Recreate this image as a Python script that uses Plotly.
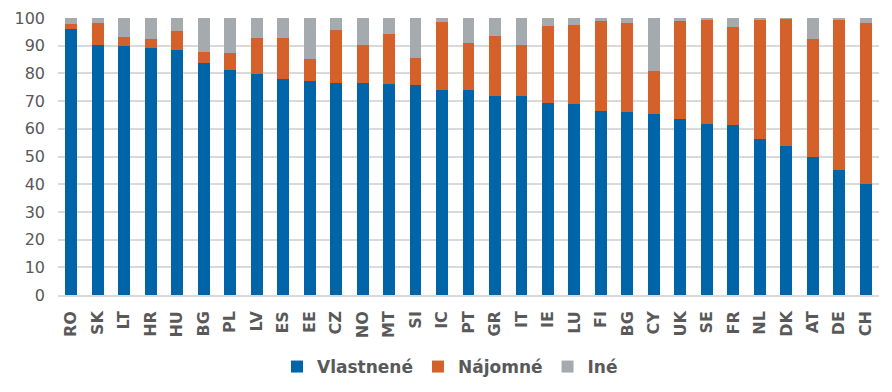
import plotly.graph_objects as go

countries = ["RO", "SK", "LT", "HR", "HU", "BG", "PL", "LV", "ES", "EE", "CZ", "NO", "MT", "SI", "IC",
             "PT", "GR", "IT", "IE", "LU", "FI", "BG", "CY", "UK", "SE", "FR", "NL", "DK", "AT", "DE", "CH"]
vlastnene = [96.2, 90.2, 90.0, 89.2, 88.4, 83.6, 81.2, 79.9, 78.1, 77.2, 76.5, 76.4, 76.1, 75.7, 74.1,
             73.9, 72.0, 71.8, 69.3, 68.9, 66.4, 66.1, 65.4, 63.4, 61.9, 61.3, 56.4, 53.7, 49.8, 45.3, 39.9]
najomne = [1.7, 8.0, 3.2, 3.2, 7.0, 4.2, 6.2, 13.0, 14.8, 8.0, 19.3, 14.0, 18.2, 10.0, 24.6,
           17.2, 21.6, 18.6, 27.8, 28.7, 32.5, 32.2, 15.6, 35.5, 37.5, 35.6, 43.0, 46.2, 42.7, 54.3, 58.4]
ine = [round(100 - a - b, 1) for a, b in zip(vlastnene, najomne)]

x = list(range(len(countries)))
font_family = "DejaVu Sans, Verdana, sans-serif"

fig = go.Figure()
for name, vals, col in [("Vlastnené", vlastnene, "#0064A8"),
                        ("Nájomné", najomne, "#D5612A"),
                        ("Iné", ine, "#A4AAAE")]:
    fig.add_trace(go.Bar(x=x, y=vals, name=name, marker=dict(color=col, line=dict(width=0))))

W, H = 884, 384  # page body has an 8px default margin
fig.update_layout(
    barmode="stack",
    bargap=0.55,
    width=W, height=H,
    margin=dict(l=50, r=13, t=10, b=97, autoexpand=False),
    paper_bgcolor="white", plot_bgcolor="white",
    font=dict(family=font_family, color="#595959"),
    legend=dict(orientation="h", x=(450 - 8) / W, xanchor="center", xref="container",
                y=1 - (367 - 8) / H, yanchor="middle", yref="container",
                font=dict(size=17, family=font_family, color="#595959", weight="bold"),
                itemwidth=30, traceorder="normal"),
    showlegend=True,
)
fig.update_xaxes(
    tickmode="array", tickvals=x, ticktext=["<b>%s</b>" % c for c in countries],
    tickangle=-90, tickfont=dict(size=16, color="#595959"),
    showline=True, linecolor="#D9D9D9", linewidth=1.5, ticks="",
    range=[-0.5, len(countries) - 0.5], showgrid=False,
    automargin=False, ticklabelstandoff=8,
)
fig.update_yaxes(
    range=[0, 100], dtick=10, tickfont=dict(size=16, color="#595959"),
    showgrid=True, gridcolor="#D9D9D9", gridwidth=1.5, zeroline=False, ticks="",
    automargin=False, ticklabelstandoff=12,
)

fig.write_html("out.html")
